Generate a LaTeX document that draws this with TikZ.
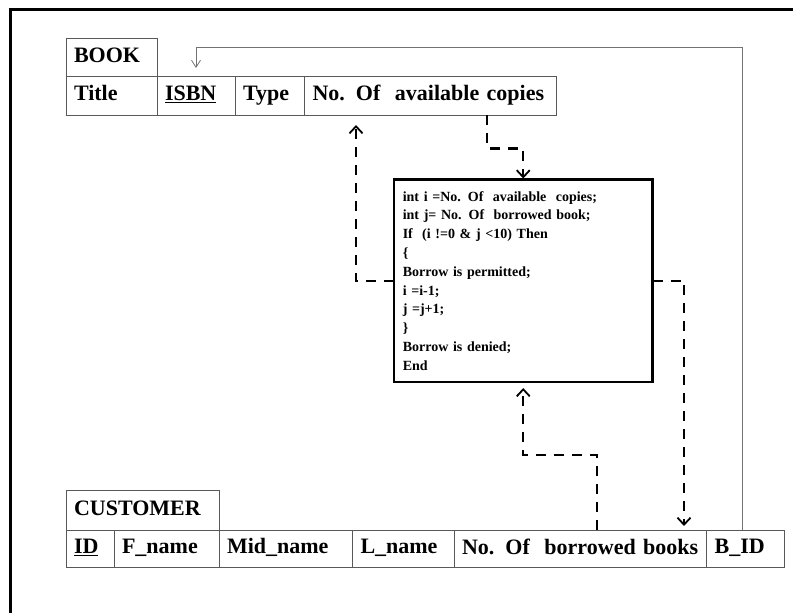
\documentclass[tikz,border=0pt]{standalone}
\usepackage{fontspec}
\setmainfont{Liberation Serif}
\usetikzlibrary{arrows.meta}
\tikzset{
  cell/.style={draw=black!65, line width=0.8pt, anchor=north west, inner xsep=8pt, inner ysep=0pt, outer sep=0pt,
    minimum height=39pt, align=left, font=\fontsize{22}{24}\selectfont\bfseries,
    execute at begin node=\rule[-4.5pt]{0pt}{17.5pt}},
  flow/.style={line width=2.4pt, dash pattern=on 10pt off 8pt,
    -{Straight Barb[length=7pt,width=13pt,line width=1.8pt]}},
  link/.style={draw=black!55, line width=1pt, -{Straight Barb[length=7pt,width=9pt,line width=0.8pt]}},
}
\begin{document}
\begin{tikzpicture}[x=1pt,y=-1pt]
                \useasboundingbox (0,0) rectangle (793,613);
                \draw[line width=3pt] (10,613) -- (10,9) -- (793,9);
                % book table
                \node[cell, text width=75pt, minimum height=38pt] (book) at (66,38) {BOOK};
                \node[cell, text width=75pt] (title) at (66,76) {Title};
                \node[cell, text width=62pt] (isbn) at (title.north east) {\underline{ISBN}};
                \node[cell, text width=53.5pt] (type) at (isbn.north east) {Type};
                \node[cell, text width=235.5pt] (avail) at (type.north east) {No. Of ~available copies};
                % rule box
                \node[draw, line width=2.8pt, anchor=north west, text width=241pt, inner xsep=8.75pt, outer sep=0pt,
                  minimum height=202.5pt, align=left, font=\fontsize{14}{18.8}\selectfont\bfseries]
                  (code) at (394,179.5) {int i =No. Of ~available ~copies;\\
                  int j= No. Of ~borrowed book;\\
                  If ~(i !=0 \& j <10) Then\\
                  \{\\
                  Borrow is permitted;\\
                  i =i-1;\\
                  j =j+1;\\
                  \}\\
                  Borrow is denied;\\
                  End};
                % customer table
                \node[cell, text width=137pt, minimum height=39.5pt] (customer) at (66,490.5) {CUSTOMER};
                \node[cell, text width=32pt, minimum height=37pt] (id) at (66,530) {\underline{ID}};
                \node[cell, text width=89pt, minimum height=37pt] (fname) at (id.north east) {F\_name};
                \node[cell, text width=117.5pt, minimum height=37pt] (midname) at (fname.north east) {Mid\_name};
                \node[cell, text width=85.5pt, minimum height=37pt] (lname) at (midname.north east) {L\_name};
                \node[cell, text width=236.6pt, minimum height=37pt] (borrowed) at (lname.north east) {No. Of ~borrowed books};
                \node[cell, text width=61.4pt, minimum height=37pt] (bid) at (borrowed.north east) {B\_ID};
                % connectors
                \draw[flow, shorten >=10pt] (code.west) -| ([xshift=51.5pt]avail.south west);
                \draw[flow, shorten >=1pt] ([xshift=182.5pt]avail.south west) -- ++(0,33.5) -| (code.north);
                \draw[flow, shorten >=4pt] (code.east) -| ([xshift=-22.6pt]borrowed.north east);
                \draw[flow, shorten >=6pt] ([xshift=143pt]borrowed.north west) -- ++(0,-75) -| (code.south);
                \draw[link, shorten >=8pt] ([xshift=-3pt]bid.north) -- ++(0,-483) -| (isbn.north);
            \end{tikzpicture}
\end{document}
